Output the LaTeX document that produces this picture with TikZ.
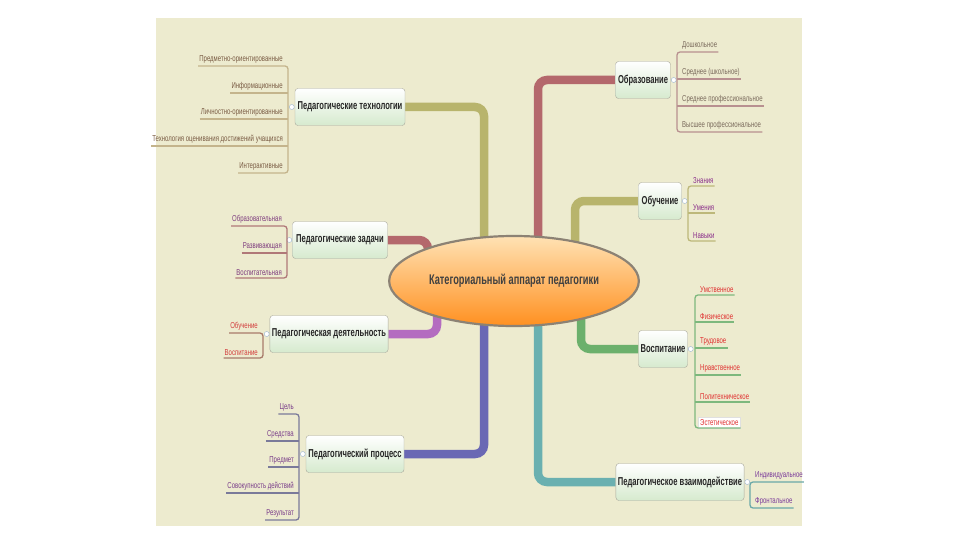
\documentclass[tikz,border=0pt]{standalone}
\usepackage{fontspec}
\setmainfont{Liberation Sans}
\newfontfamily\leaffont{Liberation Sans}[FakeStretch=0.7]
\newfontfamily\boxfont{Liberation Sans}[FakeStretch=0.66]
\usetikzlibrary{shapes.geometric,backgrounds,calc}
\usepackage{xcolor}
\definecolor{panelBg}{HTML}{EDEBCF}
\definecolor{branchRed}{HTML}{B4686C}
\definecolor{branchOlive}{HTML}{B8B46C}
\definecolor{branchPurple}{HTML}{B46CC0}
\definecolor{branchViolet}{HTML}{6A68B4}
\definecolor{branchTeal}{HTML}{6AB0B0}
\definecolor{branchGreen}{HTML}{6CB06C}
\definecolor{boxGray}{HTML}{A8A89C}
\definecolor{boxGreen}{HTML}{D6EACE}
\definecolor{ovalLight}{HTML}{FFE2B4}
\definecolor{ovalDark}{HTML}{FF9020}
\definecolor{ovalEdge}{HTML}{8C8274}
\definecolor{knobBlue}{HTML}{9AB4D0}
\definecolor{techInk}{HTML}{7A5C44}
\definecolor{techLine}{HTML}{C4B48C}
\definecolor{taskInk}{HTML}{7E3C7E}
\definecolor{taskLine}{HTML}{B07878}
\definecolor{actInk}{HTML}{D23C3C}
\definecolor{actLine}{HTML}{A87A6A}
\definecolor{procInk}{HTML}{7A3E8A}
\definecolor{procLine}{HTML}{7A7A9A}
\definecolor{eduInk}{HTML}{7A6A5C}
\definecolor{eduLine}{HTML}{B89090}
\definecolor{learnInk}{HTML}{8A2E8A}
\definecolor{learnLine}{HTML}{BDB87A}
\definecolor{upbrInk}{HTML}{E03030}
\definecolor{upbrLine}{HTML}{7DB87D}
\definecolor{interInk}{HTML}{7A3A9A}
\definecolor{interLine}{HTML}{6AA8A8}

\begin{document}
\begin{tikzpicture}[x=1pt,y=-1pt,
  topic/.style={draw=boxGray,rounded corners=3pt,top color=white,bottom color=boxGreen,
    inner xsep=2pt,minimum height=37pt,text=black!85,font=\boxfont\bfseries\fontsize{11.5}{13}\selectfont},
  leafL/.style={anchor=south east,inner xsep=1pt,inner ysep=2.5pt,font=\leaffont\fontsize{8.6}{9}\selectfont},
  leafR/.style={leafL,anchor=south west},
  uline/.style={line width=1.3pt,rounded corners=3pt},
  branch/.style={line width=8.5pt,rounded corners=9pt},
  knob/.style={circle,draw=knobBlue,fill=white,inner sep=0pt,minimum size=5pt}]

  \useasboundingbox (0,0) rectangle (960,540);

  % centre
  \node[ellipse,minimum width=200pt,minimum height=90pt,draw=ovalEdge,line width=2.2pt,
        top color=ovalLight,bottom color=ovalDark,text=black!75,
        font=\boxfont\bfseries\fontsize{14}{16}\selectfont] (core) at (514,281)
        {Категориальный аппарат педагогики};

  % topics
  \node[topic,minimum width=110pt] (tech) at (350,107) {Педагогические технологии};
  \node[topic,minimum width=95pt] (tasks) at (340,240) {Педагогические задачи};
  \node[topic,minimum width=117pt] (act) at (329,334) {Педагогическая деятельность};
  \node[topic,minimum width=98pt] (proc) at (355,454) {Педагогический процесс};
  \node[topic,minimum width=55pt] (edu) at (643,80) {Образование};
  \node[topic,minimum width=43pt] (learn) at (660,201) {Обучение};
  \node[topic,minimum width=49pt] (upbr) at (663,349) {Воспитание};
  \node[topic,minimum width=127pt] (inter) at (680,482) {Педагогическое взаимодействие};

  \node[knob] (techK) at ([xshift=-3pt]tech.west) {};
  \node[knob] (tasksK) at ([xshift=-3pt]tasks.west) {};
  \node[knob] (actK) at ([xshift=-3pt]act.west) {};
  \node[knob] (procK) at ([xshift=-3pt]proc.west) {};
  \node[knob] (eduK) at ([xshift=3pt]edu.east) {};
  \node[knob] (learnK) at ([xshift=3pt]learn.east) {};
  \node[knob] (upbrK) at ([xshift=3pt]upbr.east) {};
  \node[knob] (interK) at ([xshift=3pt]inter.east) {};

  % Педагогические технологии
  \coordinate (techB) at (288,0);
  \node[leafL,text=techInk] (tech1) at (284,66) {Предметно-ориентированные};
  \node[leafL,text=techInk] (tech2) at (284,93) {Информационные};
  \node[leafL,text=techInk] (tech3) at (284,119) {Личностно-ориентированные};
  \node[leafL,text=techInk] (tech4) at (284,146) {Технология оценивания достижений учащихся};
  \node[leafL,text=techInk] (tech5) at (284,173) {Интерактивные};
  \draw[uline,techLine] (tech1.south west) -- (tech1.south west -| techB)
    -- (tech5.south west -| techB) -- (tech5.south west);
  \draw[uline,techLine] (tech2.south west) -- (tech2.south west -| techB);
  \draw[uline,techLine] (tech3.south west) -- (tech3.south west -| techB);
  \draw[uline,techLine] (tech4.south west) -- (tech4.south west -| techB);

  % Педагогические задачи
  \coordinate (tasksB) at (287,0);
  \node[leafL,text=taskInk] (tasks1) at (283,226) {Образовательная};
  \node[leafL,text=taskInk] (tasks2) at (283,253) {Развивающая};
  \node[leafL,text=taskInk] (tasks3) at (283,278) {Воспитательная};
  \draw[uline,taskLine] (tasks1.south west) -- (tasks1.south west -| tasksB)
    -- (tasks3.south west -| tasksB) -- (tasks3.south west);
  \draw[uline,taskLine] (tasks2.south west) -- (tasks2.south west -| tasksB);

  % Педагогическая деятельность
  \coordinate (actB) at (263,0);
  \node[leafL,text=actInk] (act1) at (259,333) {Обучение};
  \node[leafL,text=actInk] (act2) at (259,358) {Воспитание};
  \draw[uline,actLine] (act1.south west) -- (act1.south west -| actB)
    -- (act2.south west -| actB) -- (act2.south west);

  % Педагогический процесс
  \coordinate (procB) at (299,0);
  \node[leafL,text=procInk] (proc1) at (295,414) {Цель};
  \node[leafL,text=procInk] (proc2) at (295,441) {Средства};
  \node[leafL,text=procInk] (proc3) at (295,467) {Предмет};
  \node[leafL,text=procInk] (proc4) at (295,493) {Совокупность действий};
  \node[leafL,text=procInk] (proc5) at (295,520) {Результат};
  \draw[uline,procLine] (proc1.south west) -- (proc1.south west -| procB)
    -- (proc5.south west -| procB) -- (proc5.south west);
  \draw[uline,procLine] (proc2.south west) -- (proc2.south west -| procB);
  \draw[uline,procLine] (proc3.south west) -- (proc3.south west -| procB);
  \draw[uline,procLine] (proc4.south west) -- (proc4.south west -| procB);

  % Образование
  \coordinate (eduB) at (677,0);
  \node[leafR,text=eduInk] (edu1) at (681,52) {Дошкольное};
  \node[leafR,text=eduInk] (edu2) at (681,79) {Среднее (школьное)};
  \node[leafR,text=eduInk] (edu3) at (681,106) {Среднее профессиональное};
  \node[leafR,text=eduInk] (edu4) at (681,132) {Высшее профессиональное};
  \draw[uline,eduLine] (edu1.south east) -- (edu1.south east -| eduB)
    -- (edu4.south east -| eduB) -- (edu4.south east);
  \draw[uline,eduLine] (edu2.south east -| eduB) -- (edu2.south east);
  \draw[uline,eduLine] (edu3.south east -| eduB) -- (edu3.south east);

  % Обучение
  \coordinate (learnB) at (688,0);
  \node[leafR,text=learnInk] (learn1) at (692,186) {Знания};
  \node[leafR,text=learnInk] (learn2) at (692,213) {Умения};
  \node[leafR,text=learnInk] (learn3) at (692,241) {Навыки};
  \draw[uline,learnLine] (learn1.south east) -- (learn1.south east -| learnB)
    -- (learn3.south east -| learnB) -- (learn3.south east);
  \draw[uline,learnLine] (learn2.south east -| learnB) -- (learn2.south east);

  % Воспитание
  \coordinate (upbrB) at (695,0);
  \node[leafR,text=upbrInk] (upbr1) at (699,295) {Умственное};
  \node[leafR,text=upbrInk] (upbr2) at (699,322) {Физическое};
  \node[leafR,text=upbrInk] (upbr3) at (699,348) {Трудовое};
  \node[leafR,text=upbrInk] (upbr4) at (699,375) {Нравственное};
  \node[leafR,text=upbrInk] (upbr5) at (699,402) {Политехническое};
  \node[leafR,text=upbrInk,fill=white,draw=black!12,inner xsep=2pt] (upbr6) at (698,428) {Эстетическое};
  \draw[uline,upbrLine] (upbr1.south east) -- (upbr1.south east -| upbrB)
    -- (upbr6.south east -| upbrB) -- (upbr6.south east);
  \draw[uline,upbrLine] (upbr2.south east -| upbrB) -- (upbr2.south east);
  \draw[uline,upbrLine] (upbr3.south east -| upbrB) -- (upbr3.south east);
  \draw[uline,upbrLine] (upbr4.south east -| upbrB) -- (upbr4.south east);
  \draw[uline,upbrLine] (upbr5.south east -| upbrB) -- (upbr5.south east);

  % Педагогическое взаимодействие
  \coordinate (interB) at (750,0);
  \node[leafR,text=interInk] (inter1) at (754,482) {Индивидуальное};
  \node[leafR,text=interInk] (inter2) at (754,508) {Фронтальное};
  \draw[uline,interLine] (inter1.south east) -- (inter1.south east -| interB)
    -- (inter2.south east -| interB) -- (inter2.south east);

  \begin{scope}[on background layer]
    \fill[panelBg] (156,18) rectangle (802,526);
    \draw[branch,branchOlive] ([xshift=-30pt]core.center) |- (tech.east);
    \draw[branch,branchRed] ([xshift=-86pt]core.center) |- (tasks.east);
    \draw[branch,branchPurple] ([xshift=-77pt]core.center) |- (act.east);
    \draw[branch,branchViolet] ([xshift=-30pt]core.center) |- (proc.east);
    \draw[branch,branchRed] ([xshift=24pt]core.center) |- (edu.west);
    \draw[branch,branchOlive] ([xshift=61pt]core.center) |- (learn.west);
    \draw[branch,branchGreen] ([xshift=67pt]core.center) |- (upbr.west);
    \draw[branch,branchTeal] ([xshift=24pt]core.center) |- (inter.west);
  \end{scope}
\end{tikzpicture}
\end{document}
